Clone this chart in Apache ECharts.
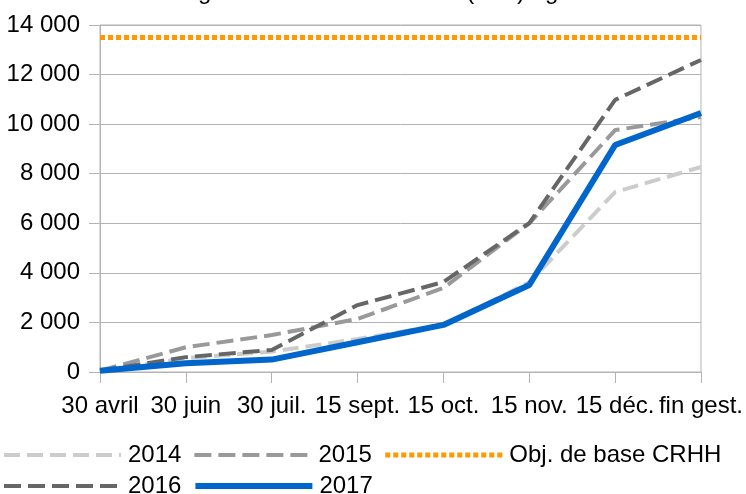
<!DOCTYPE html>
<html><head><meta charset="utf-8">
<script src="https://cdn.jsdelivr.net/npm/echarts@6/dist/echarts.min.js"></script>
<style>html,body{margin:0;padding:0;background:#fff}#c{width:746px;height:494px}</style>
</head><body><div id="c"></div>
<script>
const categories = ['30 avril','30 juin','30 juil.','15 sept.','15 oct.','15 nov.','15 déc.','fin gest.'];
const s2014 = [50, 560, 820, 1330, 1900, 3620, 7260, 8270];
const s2015 = [50, 1000, 1490, 2140, 3390, 6000, 9760, 10290];
const s2016 = [50, 600, 890, 2700, 3630, 6010, 10980, 12590];
const s2017 = [50, 350, 500, 1200, 1900, 3510, 9160, 10450];
const objCRHH = [13500, 13500, 13500, 13500, 13500, 13500, 13500, 13500];
const titleText = 'Nombre de logements locatifs sociaux (LLS) agréés';

const FONT = 'Liberation Sans';
const chart = echarts.init(document.getElementById('c'));
const fmt = v => String(v).replace(/\B(?=(\d{3})+(?!\d))/g, ' ');
function ls(name, data, color, width, type) {
  return { name, type: 'line', data, symbol: 'none', smooth: false,
    lineStyle: { color, width, type, cap: 'butt' }, itemStyle: { color }, z: 2 };
}
const legendCommon = { left: -3, orient: 'horizontal', itemWidth: 117, itemHeight: 6, itemGap: 11,
  itemStyle: { color: 'transparent', opacity: 0, borderWidth: 0 },
  lineStyle: { width: 'inherit', type: 'inherit', color: 'inherit', cap: 'butt' },
  textStyle: { color: '#000', fontSize: 24, fontFamily: FONT, padding: [0, 0, 0, 2] } };
chart.setOption({
  animation: false,
  textStyle: { fontFamily: FONT },
  graphic: [{ type: 'text', style: { x: 54, y: -8, verticalAlign: 'middle', text: titleText, font: '24px "Liberation Sans"', fill: '#000' } }],
  grid: { left: 100, right: 43, top: 25, bottom: 122, show: true, borderColor: '#b3b3b3', borderWidth: 1 },
  xAxis: { type: 'category', data: categories, boundaryGap: false,
    axisLine: { lineStyle: { color: '#b3b3b3', width: 1 } },
    axisTick: { show: true, length: 11, lineStyle: { color: '#b3b3b3' } },
    axisLabel: { color: '#000', fontSize: 24, fontFamily: FONT, margin: 22, interval: 0 },
    splitLine: { show: false } },
  yAxis: { type: 'value', min: 0, max: 14000, interval: 2000,
    axisLine: { show: true, lineStyle: { color: '#b3b3b3', width: 1 } },
    axisTick: { show: true, length: 11, lineStyle: { color: '#b3b3b3' } },
    axisLabel: { color: '#000', fontSize: 24, fontFamily: FONT, margin: 20, formatter: fmt },
    splitLine: { lineStyle: { color: '#b3b3b3', width: 1 } } },
  legend: [
    Object.assign({ data: ['2014', '2015', 'Obj. de base CRHH'], top: 438 }, legendCommon),
    Object.assign({ data: ['2016', '2017'], top: 469 }, legendCommon)
  ],
  series: [
    ls('2014', s2014, '#cccccc', 4, [16, 7]),
    ls('2015', s2015, '#999999', 4, [17, 7]),
    ls('Obj. de base CRHH', objCRHH, '#ff9900', 5, [5, 3]),
    ls('2016', s2016, '#666666', 4, [17, 7]),
    ls('2017', s2017, '#0066cc', 6, 'solid')
  ]
});
</script></body></html>
